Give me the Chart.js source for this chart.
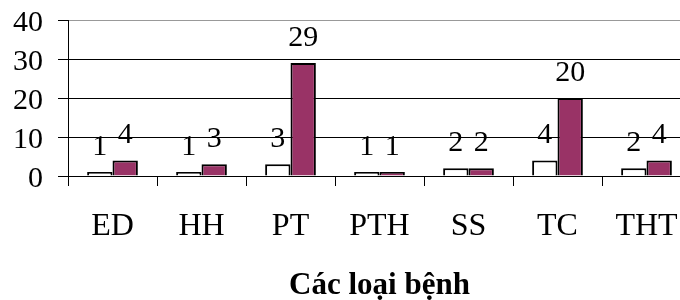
<!DOCTYPE html>
<html>
<head>
<meta charset="utf-8">
<script src="https://cdn.jsdelivr.net/npm/chart.js@4/dist/chart.umd.min.js"></script>
<style>
  html, body { margin: 0; padding: 0; background: #fff; overflow: hidden; }
  #wrap { width: 700px; height: 300px; position: relative; }
</style>
</head>
<body>
<div id="wrap"><canvas id="c" width="700" height="300"></canvas></div>
<script>
const categories = ["ED", "HH", "PT", "PTH", "SS", "TC", "THT"];
const seriesA = [1, 1, 3, 1, 2, 4, 2];
const seriesB = [4, 3, 29, 1, 2, 20, 4];
const yTicks = [0, 10, 20, 30, 40];
const xTitle = "Các loại bệnh";

const SERIF = "'Liberation Serif', 'Times New Roman', serif";

const valueLabels = {
  id: 'valueLabels',
  afterDatasetsDraw(chart) {
    const ctx = chart.ctx;
    ctx.save();
    ctx.font = "30px " + SERIF;
    ctx.fillStyle = "#000";
    ctx.textAlign = "center";
    ctx.textBaseline = "alphabetic";
    chart.data.datasets.forEach((ds, i) => {
      const meta = chart.getDatasetMeta(i);
      meta.data.forEach((bar, j) => {
        ctx.fillText(String(ds.data[j]), bar.x, bar.y - 17);
      });
    });
    ctx.restore();
  }
};

new Chart(document.getElementById('c'), {
  type: 'bar',
  data: {
    labels: categories,
    datasets: [
      { data: seriesA, backgroundColor: '#ffffff', borderColor: '#000', borderWidth: 2,
        categoryPercentage: 0.57, barPercentage: 1.0 },
      { data: seriesB, backgroundColor: '#993366', borderColor: '#000', borderWidth: 2,
        categoryPercentage: 0.57, barPercentage: 1.0 }
    ]
  },
  options: {
    responsive: false,
    animation: false,
    devicePixelRatio: 1,
    layout: { padding: { top: 20, right: 9, left: 0, bottom: 0 } },
    plugins: { legend: { display: false }, tooltip: { enabled: false } },
    scales: {
      x: {
        grid: { display: true, drawOnChartArea: false, drawTicks: true, tickLength: 10, color: '#000', offset: true },
        border: { display: true, color: '#000', width: 1 },
        ticks: { color: '#000', font: { family: SERIF, size: 32 }, padding: 21, maxRotation: 0, autoSkip: false },
        title: { display: true, text: xTitle, color: '#000',
                 font: { family: SERIF, size: 31, weight: 'bold' }, padding: { top: 0, bottom: -5 } },
        afterFit(scale) { scale.height = 124; scale.paddingLeft = 0; scale.paddingRight = 0; }
      },
      y: {
        min: 0, max: 40,
        afterBuildTicks(scale) { scale.ticks = yTicks.map(v => ({ value: v })); },
        grid: { color: (c) => c.tick && c.tick.value === 40 ? '#999' : '#000', lineWidth: 1, tickLength: 10, drawTicks: true,
                tickColor: '#000' },
        border: { display: true, color: '#000', width: 1 },
        ticks: { color: '#000', font: { family: SERIF, size: 30 }, padding: 15, autoSkip: false, labelOffset: 3 },
        afterFit(scale) { scale.width = 68; scale.paddingTop = 0; scale.paddingBottom = 0; }
      }
    }
  },
  plugins: [valueLabels]
});
</script>
</body>
</html>
